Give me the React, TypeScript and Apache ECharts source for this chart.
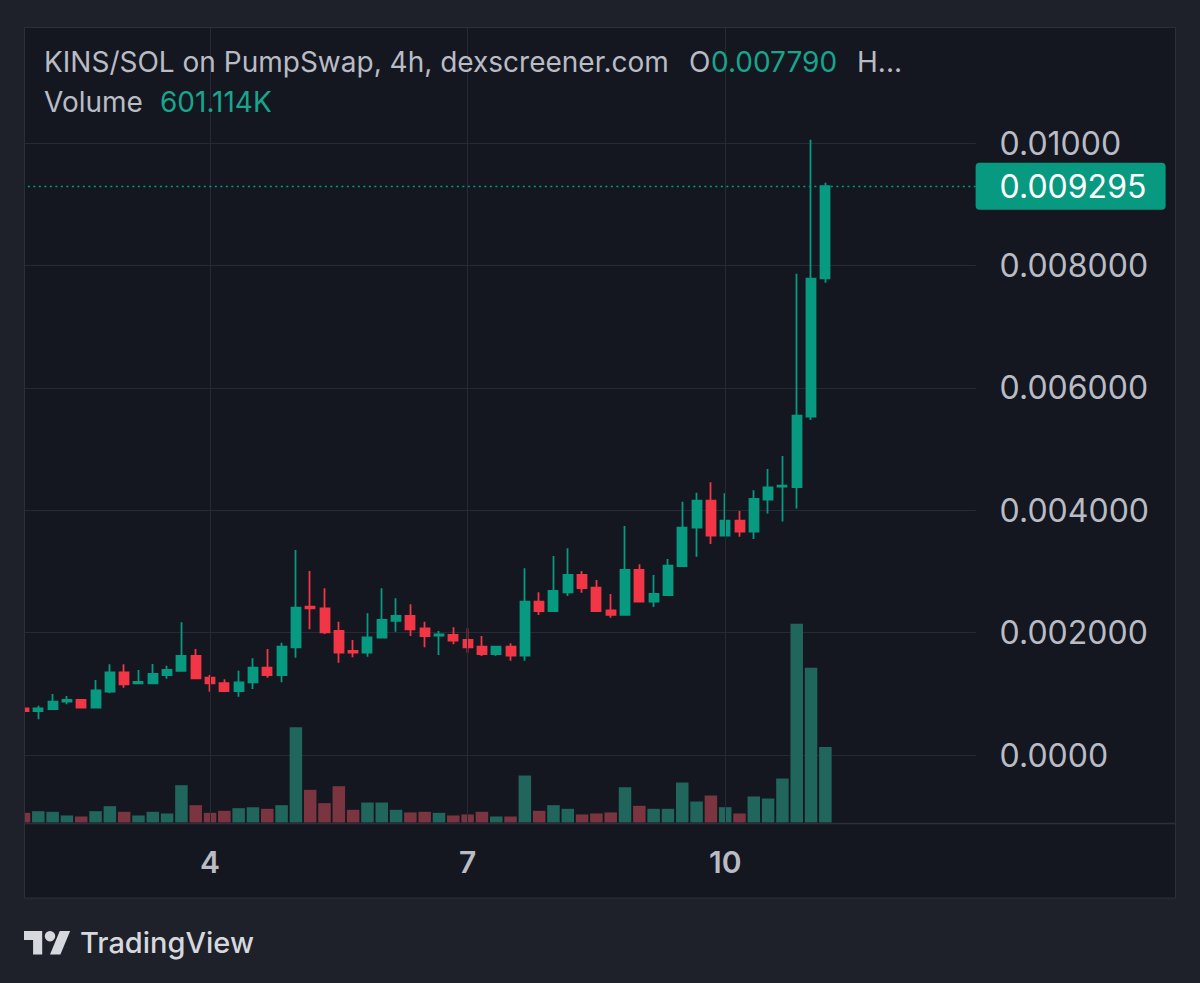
import React, { useEffect, useRef } from 'react';
import * as echarts from 'echarts';

// ---- data ----
const opens = [
  0.000763, 0.000719, 0.000752, 0.000871, 0.000899, 0.000773, 0.001034, 0.001351, 0.001172, 0.001172,
  0.001307, 0.001373, 0.001618, 0.001263, 0.001172, 0.001046, 0.001188, 0.001426, 0.001307, 0.001760,
  0.002423, 0.002397, 0.002026, 0.001699, 0.001672, 0.001917, 0.002194, 0.002271, 0.002070, 0.001949,
  0.001961, 0.001879, 0.001770, 0.001650, 0.001770, 0.001623, 0.002505, 0.002353, 0.002658, 0.002941,
  0.002734, 0.002364, 0.002288, 0.003023, 0.002505, 0.002614, 0.003088, 0.003714, 0.004155, 0.003583,
  0.003828, 0.003649, 0.004173, 0.004384, 0.004379, 0.005529, 0.007790,
];
const closes = [
  0.000719, 0.000763, 0.000871, 0.000899, 0.000773, 0.001057, 0.001351, 0.001155, 0.001193, 0.001324,
  0.001389, 0.001618, 0.001253, 0.001172, 0.001046, 0.001188, 0.001426, 0.001307, 0.001770, 0.002407,
  0.002397, 0.002005, 0.001672, 0.001672, 0.001923, 0.002206, 0.002271, 0.002054, 0.001944, 0.001972,
  0.001868, 0.001760, 0.001650, 0.001770, 0.001623, 0.002505, 0.002353, 0.002680, 0.002941, 0.002729,
  0.002353, 0.002288, 0.003023, 0.002505, 0.002631, 0.003093, 0.003714, 0.004155, 0.003583, 0.003828,
  0.003649, 0.004183, 0.004374, 0.004400, 0.005544, 0.007783, 0.009295,
];
const lows = [
  0.000600, 0.000583, 0.000745, 0.000828, 0.000763, 0.000763, 0.001008, 0.001100, 0.001160, 0.001165,
  0.001247, 0.001361, 0.001250, 0.001034, 0.001034, 0.000953, 0.001078, 0.001263, 0.001188, 0.001590,
  0.002054, 0.001977, 0.001508, 0.001596, 0.001606, 0.001910, 0.002015, 0.001944, 0.001760, 0.001634,
  0.001809, 0.001672, 0.001618, 0.001623, 0.001541, 0.001541, 0.002288, 0.002340, 0.002598, 0.002652,
  0.002345, 0.002243, 0.002280, 0.002500, 0.002418, 0.002605, 0.003080, 0.003240, 0.003448, 0.003575,
  0.003567, 0.003529, 0.003946, 0.003815, 0.004026, 0.005474, 0.007717,
];
const highs = [
  0.000770, 0.000806, 0.000997, 0.000964, 0.000915, 0.001225, 0.001482, 0.001482, 0.001389, 0.001487,
  0.001459, 0.002168, 0.001732, 0.001307, 0.001237, 0.001377, 0.001580, 0.001732, 0.001835, 0.003350,
  0.003007, 0.002724, 0.002178, 0.001879, 0.002315, 0.002724, 0.002560, 0.002462, 0.002178, 0.002026,
  0.002087, 0.002070, 0.001944, 0.001781, 0.001825, 0.003051, 0.002658, 0.003252, 0.003377, 0.003007,
  0.002859, 0.002631, 0.003742, 0.003116, 0.002941, 0.003203, 0.004139, 0.004286, 0.004456, 0.004276,
  0.003987, 0.004325, 0.004673, 0.004886, 0.007864, 0.010052, 0.009351,
];
const volumesK = [
  77, 90, 85, 56, 48, 90, 130, 85, 56, 85,
  72, 297, 138, 77, 93, 114, 122, 109, 138, 759,
  260, 154, 289, 101, 159, 159, 101, 80, 85, 77,
  56, 64, 85, 48, 48, 374, 93, 138, 109, 64,
  72, 80, 281, 133, 109, 109, 318, 167, 215, 122,
  72, 207, 191, 350, 1582, 1232, 601.114,
];
const priceTicks = [0, 0.002, 0.004, 0.006, 0.008, 0.01];
const priceTickLabels = ['0.0000', '0.002000', '0.004000', '0.006000', '0.008000', '0.01000'];
const dayTicks = ['4', '7', '10'];
const lastPrice = 0.009295;
const lastPriceLabel = '0.009295';
const titleText = 'KINS/SOL on PumpSwap, 4h, dexscreener.com';
const openLetter = 'O';
const openValue = '0.007790';
const highTrunc = 'H...';
const volumeName = 'Volume';
const volumeValue = '601.114K';
const brandText = 'TradingView';
const totalSlots = 67;
const firstDay = 1;
const firstHour = 20;

// ---- categories (4h slots) ----
const categories: string[] = [];
for (let i = 0; i < totalSlots; i++) {
  const h = firstHour + 4 * i;
  const d = firstDay + Math.floor(h / 24);
  const hh = h % 24;
  categories.push(`${d} ${String(hh).padStart(2, '0')}:00`);
}
const isDayTick = (name: string) => {
  const [d, t] = name.split(' ');
  return t === '00:00' && dayTicks.includes(d);
};

// ---- styles ----
const UP = '#089981';
const DOWN = '#f23645';
const UP_VOL = '#21665d';
const DOWN_VOL = '#7a3540';
const PANE = '#141720';
const OUTER = '#1e212a';
const GRID = '#262a34';
const BORDER = '#2c2f3a';
const TEXT = '#b9bcc5';
const TEAL_TEXT = '#17a58c';
const FONT = 'Inter, "Noto Sans", sans-serif';
const TITLE_SIZE = 28;

const SLOT = 14.31;
const GRID_LEFT = 24 - SLOT / 2;
const GRID_W = totalSlots * SLOT;

export default function App() {
  const ref = useRef<HTMLDivElement>(null);
  useEffect(() => {
    if (!ref.current) return;
    const chart = echarts.init(ref.current, undefined, { renderer: 'svg' });
    const candleData = opens.map((o, i) => [o, closes[i], lows[i], highs[i]]);
    const volData = volumesK.map((v, i) => ({
      value: v,
      itemStyle: { color: closes[i] >= opens[i] ? UP_VOL : DOWN_VOL },
    }));
    const vLines: any[] = [];
    categories.forEach((c, i) => {
      if (isDayTick(c)) {
        vLines.push({ xAxis: i, lineStyle: { color: GRID, type: 'solid', width: 1 }, label: { show: false } });
      }
    });
    const priceLabel = (v: number) => {
      const k = priceTicks.findIndex((t) => Math.abs(t - v) < 1e-9);
      return k >= 0 ? priceTickLabels[k] : '';
    };
    const txt = (x: number, y: number, text: string, fill: string) => ({
      type: 'text', z: 30, x, y, silent: true,
      style: { text, fill, fontSize: TITLE_SIZE, fontFamily: FONT, verticalAlign: 'middle' },
    });

    const option: any = {
      animation: false,
      backgroundColor: PANE,
      grid: [
        { left: GRID_LEFT, width: GRID_W, top: 20.6, height: 856.8 },
        { left: GRID_LEFT, width: GRID_W, top: 422, height: 400.5 },
      ],
      xAxis: [
        {
          type: 'category', gridIndex: 0, data: categories, boundaryGap: true,
          axisLine: { show: false }, axisTick: { show: false }, axisLabel: { show: false }, splitLine: { show: false },
        },
        {
          type: 'category', gridIndex: 1, data: categories, boundaryGap: true, z: 40,
          axisLine: { show: false }, axisTick: { show: false }, splitLine: { show: false },
          axisLabel: {
            interval: (_i: number, val: string) => isDayTick(val),
            formatter: (val: string) => val.split(' ')[0],
            color: TEXT, fontSize: 30, fontWeight: 600, fontFamily: FONT, margin: 24,
          },
        },
      ],
      yAxis: [
        {
          type: 'value', gridIndex: 0, position: 'right', min: -0.002, max: 0.012, interval: 0.002,
          axisLine: { show: false }, axisTick: { show: false },
          splitLine: { show: true, lineStyle: { color: GRID, width: 1 } },
          axisLabel: { formatter: priceLabel, color: TEXT, fontSize: 32, fontFamily: FONT, margin: 24 },
        },
        { type: 'value', gridIndex: 1, min: 0, max: 3188.8, show: false, splitLine: { show: false } },
      ],
      series: [
        {
          name: 'guides', type: 'line', xAxisIndex: 0, yAxisIndex: 0, data: closes, silent: true,
          symbol: 'none', showSymbol: false, lineStyle: { opacity: 0, width: 0 }, z: 1,
          markLine: {
            silent: true, symbol: ['none', 'none'], animation: false, precision: 10, z: 5,
            data: [
              ...vLines,
              {
                yAxis: lastPrice,
                lineStyle: { color: UP, type: [2, 3.5], width: 1.3 },
                label: {
                  show: true, position: 'end', distance: 0, formatter: lastPriceLabel,
                  color: '#ffffff', fontSize: 32, fontFamily: FONT, backgroundColor: UP,
                  padding: [6, 15, 6, 24], borderRadius: 4, width: 151, lineHeight: 35,
                },
              },
            ],
          },
        },
        {
          type: 'bar', xAxisIndex: 1, yAxisIndex: 1, data: volData, barWidth: 12.5, z: 2,
        },
        {
          type: 'candlestick', xAxisIndex: 0, yAxisIndex: 0, data: candleData, barWidth: 9.5, z: 3,
          itemStyle: { color: UP, color0: DOWN, borderColor: UP, borderColor0: DOWN, borderWidth: 1.8 },
        },
      ],
      graphic: [
        // x-axis area cover
        { type: 'rect', z: 20, silent: true, shape: { x: 24, y: 823.5, width: 1152, height: 75 }, style: { fill: PANE } },
        // outer frame
        { type: 'rect', z: 20, silent: true, shape: { x: 0, y: 0, width: 1200, height: 27 }, style: { fill: OUTER } },
        { type: 'rect', z: 20, silent: true, shape: { x: 0, y: 0, width: 24, height: 983 }, style: { fill: OUTER } },
        { type: 'rect', z: 20, silent: true, shape: { x: 1176, y: 0, width: 24, height: 983 }, style: { fill: OUTER } },
        { type: 'rect', z: 20, silent: true, shape: { x: 0, y: 898, width: 1200, height: 85 }, style: { fill: OUTER } },
        { type: 'rect', z: 21, silent: true, shape: { x: 24.5, y: 27.5, width: 1151, height: 870.5 }, style: { fill: 'none', stroke: BORDER, lineWidth: 1 } },
        { type: 'line', z: 21, silent: true, shape: { x1: 24, y1: 823.5, x2: 1176, y2: 823.5 }, style: { stroke: BORDER, lineWidth: 1.5 } },
        // legend texts
        txt(44, 62, titleText, TEXT),
        txt(689, 62, openLetter, TEXT),
        txt(711, 62, openValue, TEAL_TEXT),
        txt(857, 62, highTrunc, TEXT),
        txt(44, 102, volumeName, TEXT),
        txt(160, 102, volumeValue, TEAL_TEXT),
        // TradingView brand
        {
          type: 'group', z: 30, x: 24, y: 925.8, scaleX: 1.3, scaleY: 1.3, silent: true,
          children: [
            { type: 'polygon', z: 30, shape: { points: [[0, 4], [14, 4], [14, 22], [7, 22], [7, 11], [0, 11]] }, style: { fill: '#d6d8de' } },
            { type: 'circle', z: 30, shape: { cx: 20, cy: 8, r: 4 }, style: { fill: '#d6d8de' } },
            { type: 'polygon', z: 30, shape: { points: [[27.5, 4], [35.5, 4], [28, 22], [20, 22]] }, style: { fill: '#d6d8de' } },
          ],
        },
        { type: 'text', z: 30, x: 80, y: 942, silent: true, style: { text: brandText, fill: '#d6d8de', fontSize: 29, fontWeight: 500, fontFamily: FONT, verticalAlign: 'middle' } },
      ],
    };
    chart.setOption(option);
    return () => chart.dispose();
  }, []);
  return <div ref={ref} style={{ position: 'fixed', left: 0, top: 0, width: 1200, height: 983 }} />;
}
